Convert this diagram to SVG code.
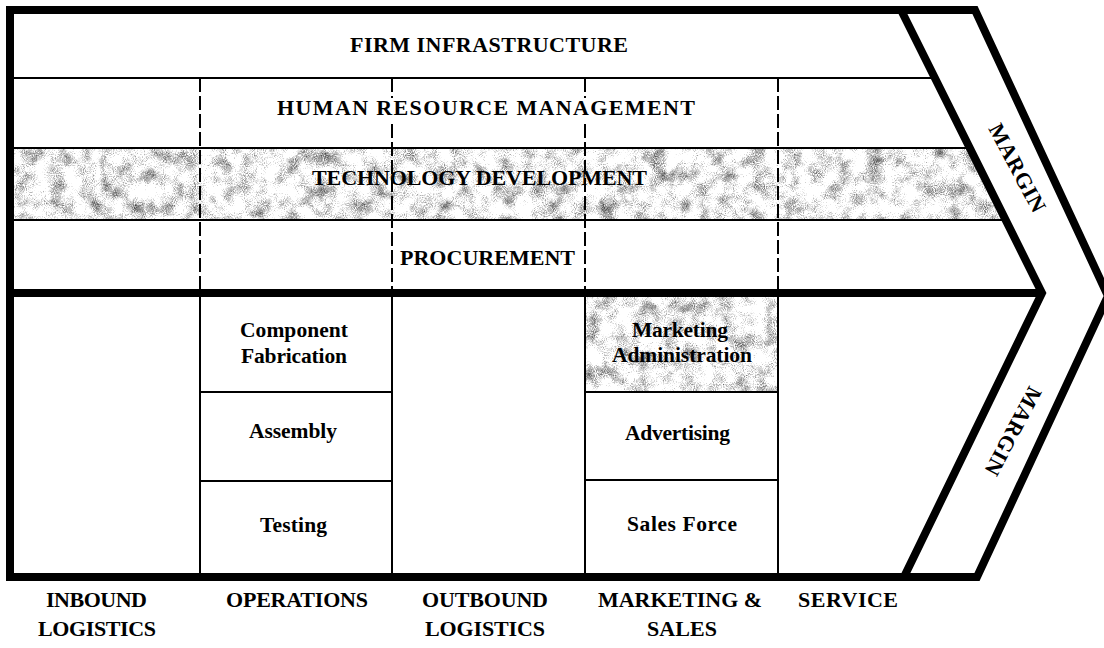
<svg xmlns="http://www.w3.org/2000/svg" width="1104" height="648" viewBox="0 0 1104 648">
<defs>
<filter id="grain" x="0" y="0" width="1" height="1" color-interpolation-filters="sRGB">
<feTurbulence type="fractalNoise" baseFrequency="0.06" numOctaves="3" seed="5" result="t1"/>
<feTurbulence type="fractalNoise" baseFrequency="0.9" numOctaves="1" seed="9" result="t2"/>
<feComposite in="t1" in2="t2" operator="arithmetic" k1="0" k2="0.55" k3="0.45" k4="0" result="m"/>
<feColorMatrix in="m" type="matrix" values="2.2 0 0 0 -0.16  2.2 0 0 0 -0.16  2.2 0 0 0 -0.16  0 0 0 0 1" result="g"/>
<feComposite in="g" in2="SourceGraphic" operator="in"/>
</filter>
<style>
.t{font-family:"Liberation Serif","Times New Roman",serif;font-weight:bold;font-size:22px;fill:#000}
.s{font-size:21.5px}
.thick{fill:none;stroke:#000;stroke-width:8;stroke-linejoin:miter}
.thin{fill:none;stroke:#000;stroke-width:2}
.dash{fill:none;stroke:#000;stroke-width:2;stroke-dasharray:14 4}
.tex{fill:#fff;filter:url(#grain)}
</style>
</defs>
<rect width="1104" height="648" fill="#fff"/>

<g id="technology-development">
<polygon class="tex" points="10,148 970,148 1005,220 10,220"/>
<text class="t" x="312" y="185" textLength="335" lengthAdjust="spacing">TECHNOLOGY DEVELOPMENT</text>
</g>
<g id="marketing-administration">
<rect class="tex" x="585" y="293" width="193" height="99"/>
<text class="t s" x="632" y="337" textLength="96" lengthAdjust="spacing">Marketing</text>
<text class="t s" x="612" y="362" textLength="140" lengthAdjust="spacing">Administration</text>
</g>

<g id="grid-lines">
<line class="thin" x1="10" y1="78" x2="936" y2="78"/>
<line class="thin" x1="10" y1="148" x2="970" y2="148"/>
<line class="thin" x1="10" y1="220" x2="1005" y2="220"/>
<line class="dash" x1="200" y1="78" x2="200" y2="293"/>
<line class="dash" x1="392" y1="78" x2="392" y2="98"/>
<line class="dash" x1="392" y1="124" x2="392" y2="293"/>
<line class="dash" x1="585" y1="78" x2="585" y2="98"/>
<line class="dash" x1="585" y1="124" x2="585" y2="293"/>
<line class="dash" x1="778" y1="78" x2="778" y2="293"/>
<line class="thin" x1="200" y1="293" x2="200" y2="577"/>
<line class="thin" x1="392" y1="293" x2="392" y2="577"/>
<line class="thin" x1="585" y1="293" x2="585" y2="577"/>
<line class="thin" x1="778" y1="293" x2="778" y2="577"/>
<line class="thin" x1="200" y1="392" x2="392" y2="392"/>
<line class="thin" x1="200" y1="481" x2="392" y2="481"/>
<line class="thin" x1="585" y1="392" x2="778" y2="392"/>
<line class="thin" x1="585" y1="480" x2="778" y2="480"/>
<polygon class="thick" points="10,10 975,10 1108,296 977,577 10,577"/>
<polyline class="thick" points="901,10 1042,293 904,577"/>
<line class="thick" x1="10" y1="293" x2="1042" y2="293"/>
</g>

<g id="firm-infrastructure">
<text class="t" x="350" y="52" textLength="278" lengthAdjust="spacing">FIRM INFRASTRUCTURE</text>
</g>
<g id="human-resource-management">
<text class="t" x="277" y="115" textLength="418" lengthAdjust="spacing">HUMAN RESOURCE MANAGEMENT</text>
</g>
<g id="procurement">
<text class="t" x="400" y="265" textLength="175" lengthAdjust="spacing">PROCUREMENT</text>
</g>
<g id="operations">
<text class="t s" x="240" y="337" textLength="108" lengthAdjust="spacing">Component</text>
<text class="t s" x="241" y="363" textLength="106" lengthAdjust="spacing">Fabrication</text>
<text class="t s" x="249" y="438" textLength="88" lengthAdjust="spacing">Assembly</text>
<text class="t s" x="260" y="532" textLength="67" lengthAdjust="spacing">Testing</text>
</g>
<g id="marketing-sales">
<text class="t s" x="625" y="440" textLength="105" lengthAdjust="spacing">Advertising</text>
<text class="t s" x="627" y="531" textLength="110" lengthAdjust="spacing">Sales Force</text>
</g>
<g id="margin">
<text class="t" text-anchor="middle" transform="translate(1017,168) rotate(62)" y="7" textLength="97" lengthAdjust="spacing">MARGIN</text>
<text class="t" text-anchor="middle" transform="translate(1013,431) rotate(118)" y="7" textLength="97" lengthAdjust="spacing">MARGIN</text>
</g>
<g id="labels">
<text class="t" x="46" y="607" textLength="101" lengthAdjust="spacing">INBOUND</text>
<text class="t" x="38" y="636" textLength="118" lengthAdjust="spacing">LOGISTICS</text>
<text class="t" x="226" y="607" textLength="142" lengthAdjust="spacing">OPERATIONS</text>
<text class="t" x="422" y="607" textLength="126" lengthAdjust="spacing">OUTBOUND</text>
<text class="t" x="425" y="636" textLength="120" lengthAdjust="spacing">LOGISTICS</text>
<text class="t" x="598" y="607" textLength="164" lengthAdjust="spacing">MARKETING &amp;</text>
<text class="t" x="647" y="636" textLength="70" lengthAdjust="spacing">SALES</text>
<text class="t" x="798" y="607" textLength="100" lengthAdjust="spacing">SERVICE</text>
</g>
</svg>
